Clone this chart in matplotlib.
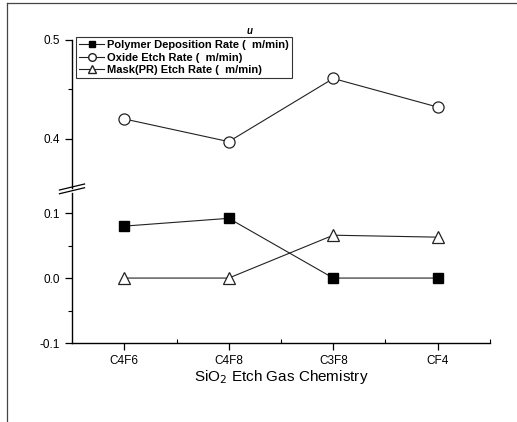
import matplotlib
matplotlib.use('Agg')
import matplotlib.pyplot as plt
from matplotlib.lines import Line2D

plt.rcParams['font.family'] = ['Liberation Sans', 'DejaVu Sans']

gases = ['C4F6', 'C4F8', 'C3F8', 'CF4']
polymer_rate = [0.080, 0.092, 0.0, 0.0]
oxide_rate = [0.420, 0.397, 0.461, 0.432]
mask_rate = [0.0, 0.0, 0.066, 0.063]

labels = ['Polymer Deposition Rate (  m/min)',
          'Oxide Etch Rate (  m/min)',
          'Mask(PR) Etch Rate (  m/min)']

W, H = 517, 422
fig = plt.figure(figsize=(W / 100, H / 100), dpi=100)

def box(x0, y0, x1, y1):
    return [x0 / W, 1 - y1 / H, (x1 - x0) / W, (y1 - y0) / H]

ax_top = fig.add_axes(box(72, 40, 490, 188))
ax_bot = fig.add_axes(box(72, 193, 490, 343))

x = list(range(len(gases)))
style = dict(color='#222222', lw=0.8)

# oxide etch rate lives in the upper part of the broken axis
ax_top.plot(x, oxide_rate, marker='o', ms=8, mfc='white', mec='#222222', mew=0.9, **style)
ax_bot.plot(x, polymer_rate, marker='s', ms=7, mfc='black', mec='black', **style)
ax_bot.plot(x, mask_rate, marker='^', ms=9, mfc='white', mec='#222222', mew=0.9, **style)

for ax in (ax_top, ax_bot):
    ax.set_xlim(-0.5, 3.5)
    ax.spines['top'].set_visible(False)
    ax.spines['right'].set_visible(False)
    ax.spines['left'].set_linewidth(1.0)
    ax.tick_params(axis='y', labelsize=8.5, length=5, width=0.9, direction='out')
    ax.tick_params(axis='y', which='minor', length=3, width=0.8, direction='out')

ax_top.set_ylim(0.35, 0.5)
ax_top.set_yticks([0.4, 0.5])
ax_top.set_yticks([0.45], minor=True)
ax_top.set_yticklabels(['0.4', '0.5'])
ax_top.spines['bottom'].set_visible(False)
ax_top.set_xticks([])

ax_bot.set_ylim(-0.1, 0.131)
ax_bot.set_yticks([-0.1, 0.0, 0.1])
ax_bot.set_yticks([-0.05, 0.05], minor=True)
ax_bot.set_yticklabels(['-0.1', '0.0', '0.1'])
ax_bot.set_xticks(x)
ax_bot.set_xticklabels(gases)
ax_bot.set_xticks([0.5, 1.5, 2.5, 3.5], minor=True)
ax_bot.tick_params(axis='x', labelsize=8.5, length=5, width=0.9, direction='out')
ax_bot.tick_params(axis='x', which='minor', length=3, width=0.8, direction='in')
ax_bot.spines['bottom'].set_linewidth(1.0)
ax_bot.set_xlabel('SiO$_2$ Etch Gas Chemistry', fontsize=11, labelpad=1)

# break marks on the y axis
for dy in (0.0, 0.025):
    ax_bot.plot([-0.03, 0.03], [0.995 + dy, 1.035 + dy], transform=ax_bot.transAxes,
                color='black', lw=0.9, clip_on=False)

handles = [
    Line2D([], [], marker='s', ms=5, mfc='black', mec='black', **style),
    Line2D([], [], marker='o', ms=5.5, mfc='white', mec='#222222', **style),
    Line2D([], [], marker='^', ms=6, mfc='white', mec='#222222', **style),
]
leg = fig.legend(handles, labels, loc='upper left', bbox_to_anchor=(76 / W, 1 - 37 / H),
                 prop={'weight': 'bold', 'size': 8}, frameon=True, fancybox=False,
                 borderpad=0.3, labelspacing=0.2, handlelength=2.2, handletextpad=0.3,
                 borderaxespad=0)
leg.get_frame().set_edgecolor('black')
leg.get_frame().set_linewidth(0.8)

# stray mu glyph from the original rendering
fig.text(250 / W, 1 - 31 / H, 'u', fontsize=7, style='italic', weight='bold',
         ha='center', va='center')

# page frame lines (top and left)
fig.add_artist(Line2D([7 / W, 1], [1 - 3 / H, 1 - 3 / H], color='#444444', lw=0.9))
fig.add_artist(Line2D([7 / W, 7 / W], [0, 1 - 3 / H], color='#444444', lw=0.9))

fig.savefig('out.png', dpi=100)
